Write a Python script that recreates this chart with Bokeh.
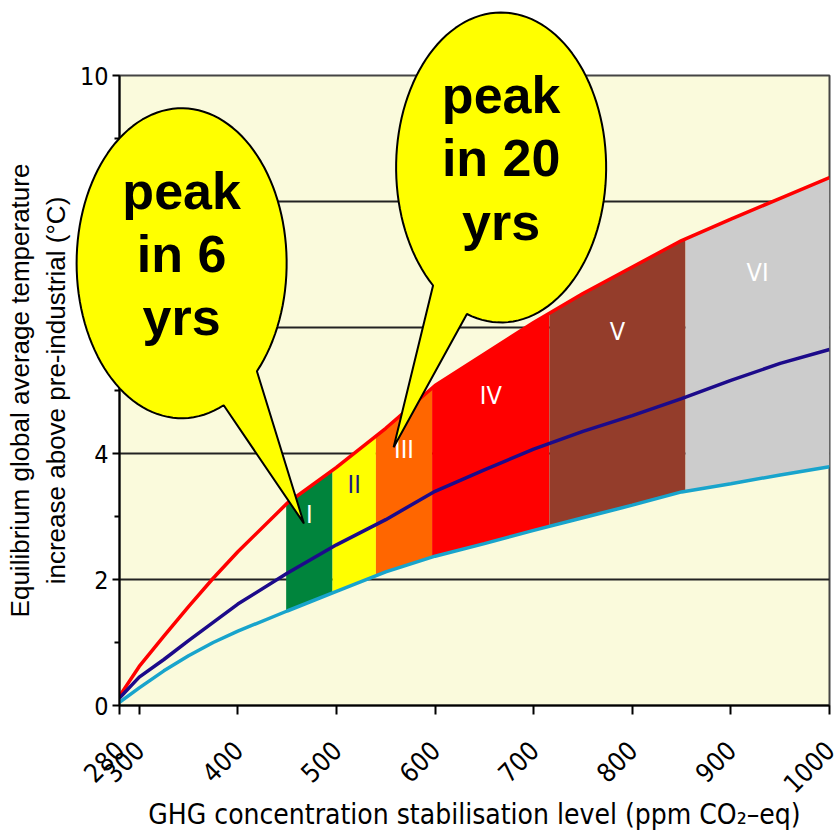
import numpy as np
from bokeh.plotting import figure
from bokeh.models import FixedTicker
from bokeh.core.properties import value
from bokeh.embed import file_html
from bokeh.resources import INLINE

# ---- data ----
ppm = [280, 300, 325, 350, 375, 400, 450, 500, 550, 600, 650, 700, 750, 800, 850, 900, 950, 1000]
temp_high = [0.15, 0.62, 1.10, 1.57, 2.02, 2.44, 3.21, 3.78, 4.40, 5.08, 5.58, 6.08, 6.54, 6.96, 7.38, 7.72, 8.05, 8.38]
temp_best = [0.12, 0.45, 0.73, 1.03, 1.32, 1.61, 2.10, 2.55, 2.95, 3.40, 3.74, 4.07, 4.35, 4.60, 4.87, 5.16, 5.43, 5.65]
temp_low = [0.05, 0.28, 0.55, 0.79, 1.00, 1.18, 1.50, 1.81, 2.12, 2.37, 2.57, 2.78, 2.98, 3.18, 3.39, 3.52, 3.66, 3.79]

category_names = ["I", "II", "III", "IV", "V", "VI"]
category_edges = [449, 496, 540, 597, 716, 854, 1000]
category_colors = ["#00843C", "#FFFF00", "#FF6600", "#FF0000", "#943D2B", "#CCCCCC"]
category_text_colors = ["white", "#1A1A80", "white", "white", "white", "white"]

x_ticks = [280, 300, 400, 500, 600, 700, 800, 900, 1000]
y_ticks = [0, 2, 4, 6, 8, 10]
y_minor = [1, 3, 5, 7, 9]

bubble_texts = [["peak", "in 6", "yrs"], ["peak", "in 20", "yrs"]]

NARROW = "DejaVu Sans Condensed, Liberation Sans, sans-serif"

p = figure(width=840, height=838, x_range=(280, 1000), y_range=(0, 10),
           output_backend="svg", toolbar_location=None,
           min_border_left=119, min_border_right=11, min_border_top=75, min_border_bottom=133,
           background_fill_color="#FAFADC", border_fill_color="white")

p.outline_line_color = "#444444"
p.outline_line_width = 2

# grid
p.xgrid.visible = False
p.ygrid.ticker = FixedTicker(ticks=[2, 4, 6, 8])
p.ygrid.grid_line_color = "#222222"
p.ygrid.grid_line_width = 2

# axes
p.xaxis.ticker = FixedTicker(ticks=x_ticks)
p.yaxis.ticker = FixedTicker(ticks=y_ticks, minor_ticks=y_minor)
p.yaxis.major_label_overrides = {6: "", 8: ""}
for ax in (p.xaxis[0], p.yaxis[0]):
    ax.axis_line_color = "black"
    ax.axis_line_width = 2
    ax.major_tick_line_color = "black"
    ax.major_tick_line_width = 2
    ax.minor_tick_line_color = "black"
    ax.minor_tick_line_width = 2
    ax.major_tick_in = 0
    ax.minor_tick_in = 0
    ax.major_label_text_color = "black"
    ax.axis_label_text_color = "black"
    ax.axis_label_text_font_style = "normal"

p.xaxis.major_tick_out = 9
p.xaxis.major_label_orientation = np.pi / 4
p.xaxis.major_label_text_font = NARROW
p.xaxis.major_label_text_font_size = "26px"
p.xaxis.major_label_standoff = 31
p.xaxis.axis_label = "GHG concentration stabilisation level (ppm CO\u2082\u2013eq)"
p.xaxis.axis_label_text_font = NARROW
p.xaxis.axis_label_text_font_size = "28px"
p.xaxis.axis_label_standoff = -7

p.yaxis.major_tick_out = 7
p.yaxis.minor_tick_out = 5
p.yaxis.major_label_text_font = NARROW
p.yaxis.major_label_text_font_size = "25px"
p.yaxis.major_label_standoff = 4
p.yaxis.axis_label = "Equilibrium global average temperature\nincrease above pre-industrial (\u00b0C)"
p.yaxis.axis_label_text_font = "Liberation Sans"
p.yaxis.axis_label_text_font_size = "26px"
p.yaxis.axis_label_standoff = 6

# ---- stabilisation category bands ----
xs_all = np.array(ppm, dtype=float)
hi = np.array(temp_high)
lo = np.array(temp_low)
for i, name in enumerate(category_names):
    a, b = category_edges[i], category_edges[i + 1]
    inner = xs_all[(xs_all > a) & (xs_all < b)]
    bx = np.concatenate([[a], inner, [b]])
    p.varea(x=bx, y1=np.interp(bx, xs_all, lo), y2=np.interp(bx, xs_all, hi),
            fill_color=category_colors[i], fill_alpha=1.0)

mids = [(category_edges[i] + category_edges[i + 1]) / 2 for i in range(len(category_names))]
top_at = np.interp(mids, xs_all, hi)
bot_at = np.interp(mids, xs_all, lo)
label_y = top_at - 0.24 * (top_at - bot_at)
p.text(x=mids, y=list(label_y), text=category_names, text_color=category_text_colors,
       text_font=value(NARROW), text_font_size="25px", text_align="center", text_baseline="middle")

# ---- temperature curves ----
p.line(ppm, temp_high, line_color="#FF0000", line_width=3.5)
p.line(ppm, temp_best, line_color="#1C0A8A", line_width=3.5)
p.line(ppm, temp_low, line_color="#18A4CC", line_width=3.5)

# ---- speech bubbles ----
def bubble(cx, cy, rx, ry, gap_from, gap_to, tip):
    t = np.radians(np.linspace(gap_to, gap_from + 360, 120))
    bx = list(cx + rx * np.cos(t)) + [tip[0]]
    by = list(cy + ry * np.sin(t)) + [tip[1]]
    return bx, by

bubble_specs = [
    dict(cx=343, cy=7.02, rx=106.5, ry=2.46, gap_from=-66.4, gap_to=-44.2, tip=(467, 2.89)),
    dict(cx=667, cy=8.54, rx=106.5, ry=2.46, gap_from=-130.4, gap_to=-109.0, tip=(558, 4.10)),
]
line_offsets = [1.0, 0.0, -1.01]
for spec, lines in zip(bubble_specs, bubble_texts):
    bx, by = bubble(**spec)
    p.patch(bx, by, fill_color="#FFFF00", line_color="black", line_width=2, level="overlay")
    p.text(x=[spec["cx"]] * 3, y=[spec["cy"] + 0.15 + o for o in line_offsets], text=lines,
           text_font=value("Liberation Sans"), text_font_style="bold", text_font_size="52px",
           text_color="black", text_align="center", text_baseline="middle", level="overlay")

open("out.html", "w").write(file_html(p, INLINE))
